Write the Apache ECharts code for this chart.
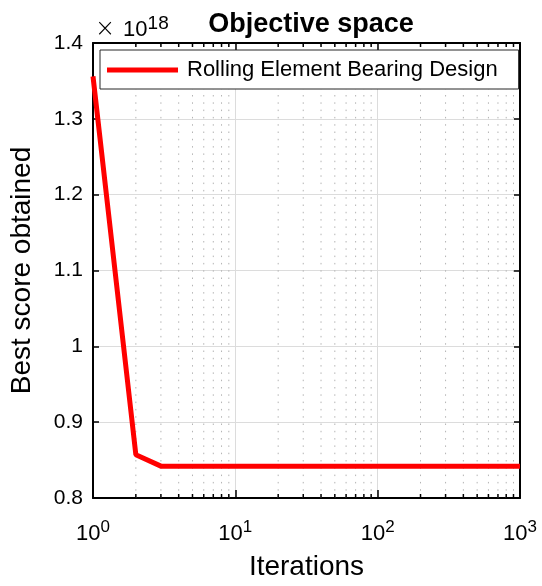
<!DOCTYPE html>
<html>
<head>
<meta charset="utf-8">
<style>
	html, body, div {
		margin: 0;
		padding: 0;
		background: #fff;
	}
	#objspace {
		width: 542px;
		height: 586px;
	}
</style>
<script src="https://cdn.jsdelivr.net/npm/echarts@6/dist/echarts.min.js"></script>
</head>
<body>
<div id="objspace"></div>
<script>
	// 收敛曲线数据 (单位 1e18)
	var iterations = [1, 2, 3, 1000];
	var scores = [1.356, 0.857, 0.842, 0.842];
	var seriesName = 'Rolling Element Bearing Design';
	// 对数轴次刻度位置
	var minorTicks = [2, 3, 4, 5, 6, 7, 8, 9, 20, 30, 40, 50, 60, 70, 80, 90, 200, 300, 400, 500, 600, 700, 800, 900];

	var yMin = 0.8, yMax = 1.4;
	var font = 'Liberation Sans, Arial, sans-serif';

	var chart = echarts.init(document.getElementById('objspace'));

	var xLabel = {
		fontFamily: font,
		color: '#000',
		margin: 21,
		formatter: function (v) {
			return '{b|10}{s|' + Math.round(Math.log10(v)) + '}';
		},
		rich: {
			b: { fontSize: 22, fontFamily: font, color: '#000' },
			s: { fontSize: 17, fontFamily: font, color: '#000', padding: [0, 0, 12, 0] }
		}
	};

	var option = {
		animation: false,
		title: {
			text: 'Objective space',
			left: 306,
			textAlign: 'center',
			top: 6,
			textStyle: { fontFamily: font, fontSize: 27, fontWeight: 'bold', color: '#000' }
		},
		graphic: [{
			type: 'text',
			left: 95,
			top: 14,
			style: {
				text: '{x|×}{a|10}{s|18}',
				rich: {
					x: { fontSize: 24, fontFamily: 'DejaVu Sans', fill: '#000', fontWeight: 'lighter', padding: [0, 8, 0, 0] },
					a: { fontSize: 22, fontFamily: font, fill: '#000' },
					s: { fontSize: 19, fontFamily: font, fill: '#000', padding: [0, 0, 12, 0] }
				}
			}
		}],
		legend: {
			data: [seriesName],
			left: 100,
			top: 50,
			padding: [9, 21, 8, 7],
			itemGap: 0,
			borderColor: '#262626',
			borderWidth: 1,
			backgroundColor: '#fff',
			icon: 'rect',
			itemWidth: 71,
			itemHeight: 5,
			itemStyle: { color: '#ff0000' },
			textStyle: { fontFamily: font, fontSize: 22, color: '#000', padding: [0, 0, 0, 4] },
			z: 10
		},
		grid: {
			left: 93,
			right: 22,
			top: 43,
			bottom: 86,
			containLabel: false
		},
		xAxis: [{
			type: 'log',
			logBase: 10,
			min: 1,
			max: 1000,
			name: 'Iterations',
			nameLocation: 'middle',
			nameGap: 55,
			nameTextStyle: { fontFamily: font, fontSize: 28, color: '#000' },
			axisLine: { show: true, lineStyle: { color: '#000', width: 2 } },
			axisTick: { show: true, inside: true, length: 8, lineStyle: { color: '#000', width: 1.5 } },
			axisLabel: xLabel,
			splitLine: { show: true, lineStyle: { color: '#dcdcdc', width: 1 } }
		}, {
			type: 'log',
			logBase: 10,
			min: 1,
			max: 1000,
			position: 'top',
			axisLine: { show: true, lineStyle: { color: '#000', width: 2 } },
			axisTick: { show: true, inside: true, length: 8, lineStyle: { color: '#000', width: 1.5 } },
			axisLabel: { show: false },
			splitLine: { show: false }
		}],
		yAxis: [{
			type: 'value',
			min: yMin,
			max: yMax,
			interval: 0.1,
			name: 'Best score obtained',
			nameLocation: 'middle',
			nameGap: 57,
			nameTextStyle: { fontFamily: font, fontSize: 28, color: '#000' },
			axisLine: { show: true, lineStyle: { color: '#000', width: 2 } },
			axisTick: { show: true, inside: true, length: 6, lineStyle: { color: '#000', width: 1.5 } },
			axisLabel: {
				fontFamily: font,
				fontSize: 21,
				color: '#000',
				margin: 10,
				formatter: function (v) {
					return String(Math.round(v * 10) / 10);
				}
			},
			splitLine: { show: true, lineStyle: { color: '#dcdcdc', width: 1 } }
		}, {
			type: 'value',
			min: yMin,
			max: yMax,
			interval: 0.1,
			position: 'right',
			axisLine: { show: true, lineStyle: { color: '#000', width: 2 } },
			axisTick: { show: true, inside: true, length: 6, lineStyle: { color: '#000', width: 1.5 } },
			axisLabel: { show: false },
			splitLine: { show: false }
		}],
		series: [{
			// 次网格线与次刻度
			type: 'custom',
			silent: true,
			xAxisIndex: 0,
			yAxisIndex: 0,
			z: 1,
			data: minorTicks.map(function (v) { return [v, yMin]; }),
			renderItem: function (params, api) {
				var v = api.value(0);
				var bot = api.coord([v, yMin]);
				var top = api.coord([v, yMax]);
				return {
					type: 'group',
					children: [{
						type: 'line',
						shape: { x1: bot[0], y1: bot[1], x2: top[0], y2: top[1] },
						style: { stroke: '#b4b4b4', lineWidth: 1, lineDash: [1.5, 5.8] }
					}, {
						type: 'line',
						shape: { x1: bot[0], y1: bot[1], x2: bot[0], y2: bot[1] - 4 },
						style: { stroke: '#000', lineWidth: 1.5 }
					}, {
						type: 'line',
						shape: { x1: top[0], y1: top[1], x2: top[0], y2: top[1] + 4 },
						style: { stroke: '#000', lineWidth: 1.5 }
					}]
				};
			}
		}, {
			name: seriesName,
			type: 'line',
			xAxisIndex: 0,
			yAxisIndex: 0,
			symbol: 'none',
			z: 5,
			lineStyle: { color: '#ff0000', width: 5 },
			itemStyle: { color: '#ff0000' },
			data: iterations.map(function (x, i) { return [x, scores[i]]; })
		}]
	};

	chart.setOption(option);
</script>
</body>
</html>
